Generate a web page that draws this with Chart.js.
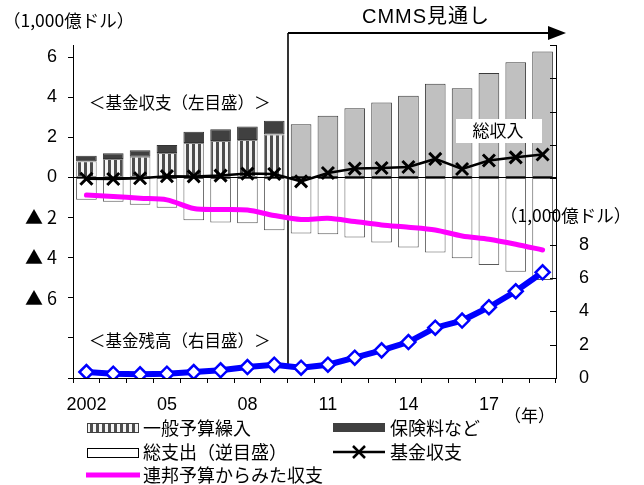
<!DOCTYPE html>
<html>
<head>
<meta charset="utf-8">
<script src="https://cdn.jsdelivr.net/npm/chart.js@4/dist/chart.umd.min.js"></script>
<style>
  html, body { margin: 0; padding: 0; background: #fff; }
  canvas { display: block; }
</style>
</head>
<body>
<canvas id="chart" width="644" height="485"></canvas>
<script>
// Medicare SMI trust fund: income, expenditure and reserves (1,000億ドル)
const years = [2002, 2003, 2004, 2005, 2006, 2007, 2008, 2009, 2010,
               2011, 2012, 2013, 2014, 2015, 2016, 2017, 2018, 2019];
const yearTickLabels = ['2002', '', '', '05', '', '', '08', '', '', '11', '', '', '14', '', '', '17', '', ''];
const projectionStartYear = 2010;

// actual income split (through 2009)
const generalRevenue = [0.80, 0.92, 1.035, 1.22, 1.72, 1.82, 1.87, 2.135,
                        null, null, null, null, null, null, null, null, null, null];
const premiums = [0.285, 0.28, 0.315, 0.40, 0.55, 0.58, 0.665, 0.685,
                  null, null, null, null, null, null, null, null, null, null];
// projected total income (from 2010)
const projectedIncome = [null, null, null, null, null, null, null, null,
                         2.65, 3.07, 3.45, 3.73, 4.07, 4.67, 4.45, 5.2, 5.735, 6.27];
// total expenditure, drawn downward
const totalExpenditure = [1.115, 1.215, 1.365, 1.515, 2.13, 2.25, 2.28, 2.63, 2.8,
                          2.83, 3.0, 3.25, 3.5, 3.75, 4.03, 4.37, 4.7, 5.12];
const fundBalance = [-0.07, -0.08, -0.04, 0.06, 0.05, 0.09, 0.19, 0.17, -0.2,
                     0.22, 0.44, 0.47, 0.52, 0.92, 0.42, 0.84, 1.0, 1.14];
const federalBudgetBalance = [-0.88, -0.95, -1.04, -1.12, -1.55, -1.6, -1.63, -1.9, -2.1,
                              -2.04, -2.2, -2.37, -2.48, -2.62, -2.92, -3.08, -3.33, -3.62];
const fundReserve = [0.36, 0.26, 0.22, 0.26, 0.36, 0.46, 0.66, 0.8, 0.62,
                     0.8, 1.22, 1.66, 2.16, 3.02, 3.45, 4.25, 5.21, 6.35];

const leftTicks = [-10, -8, -6, -4, -2, 0, 2, 4, 6];
const rightTicks = [0, 2, 4, 6, 8, 10, 12, 14, 16, 18, 20];
const rightTickLabelMax = 8;

const NUM_FONT = '"Liberation Sans", Arial, sans-serif';
const JP_FONT = '"Noto Sans CJK JP", sans-serif';

function makeStripes() {
  const c = document.createElement('canvas');
  c.width = 6; c.height = 6;
  const g = c.getContext('2d');
  g.fillStyle = '#f4f4f4';
  g.fillRect(0, 0, 6, 6);
  g.fillStyle = '#4d4d4d';
  g.fillRect(0, 0, 3, 6);
  return g.createPattern(c, 'repeat');
}
const stripes = makeStripes();

const COLORS = {
  premium: '#404040',
  income: '#c0c0c0',
  balance: '#000000',
  federal: '#ff00ff',
  reserve: '#0000ff'
};

const overlay = {
  id: 'overlay',
  afterDatasetDraw(chart, args) {
    // index 0 (general revenue) is the last bar dataset painted
    if (args.index !== 0) return;
    const { ctx, chartArea: a, scales: { x, y } } = chart;
    ctx.save();
    // zero line of the left scale
    const y0 = Math.round(y.getPixelForValue(0)) + 0.5;
    ctx.strokeStyle = '#000';
    ctx.lineWidth = 1;
    ctx.beginPath();
    ctx.moveTo(a.left, y0);
    ctx.lineTo(a.right, y0);
    ctx.stroke();

    // projection divider with arrow
    const i = years.indexOf(projectionStartYear);
    const vx = Math.round((x.getPixelForValue(i - 1) + x.getPixelForValue(i)) / 2);
    const arrowY = 33;
    ctx.lineWidth = 1.6;
    ctx.beginPath();
    ctx.moveTo(vx, arrowY);
    ctx.lineTo(vx, a.bottom - 11);
    ctx.stroke();
    ctx.lineWidth = 2;
    ctx.beginPath();
    ctx.moveTo(vx, arrowY);
    ctx.lineTo(a.right - 8, arrowY);
    ctx.stroke();
    ctx.fillStyle = '#000';
    ctx.beginPath();
    ctx.moveTo(a.right - 8, arrowY - 7);
    ctx.lineTo(a.right + 10, arrowY);
    ctx.lineTo(a.right - 8, arrowY + 7);
    ctx.closePath();
    ctx.fill();

    // total income callout
    ctx.fillStyle = '#fff';
    ctx.fillRect(456, 119, 86, 24);
    ctx.fillStyle = '#000';
    ctx.font = '17px ' + JP_FONT;
    ctx.textAlign = 'center';
    ctx.textBaseline = 'middle';
    ctx.fillText('総収入', 498, 131);
    ctx.restore();
  },
  afterDraw(chart) {
    const { ctx, chartArea: a, scales: { y2 } } = chart;
    ctx.save();
    // inward tick marks on the right scale
    ctx.strokeStyle = '#000';
    ctx.lineWidth = 1;
    rightTicks.forEach(v => {
      const py = Math.round(y2.getPixelForValue(v)) + 0.5;
      ctx.beginPath();
      ctx.moveTo(a.right - 6, py);
      ctx.lineTo(a.right, py);
      ctx.stroke();
    });

    ctx.fillStyle = '#000';
    ctx.textBaseline = 'middle';
    ctx.textAlign = 'left';
    ctx.font = '17.5px ' + JP_FONT;
    ctx.fillText('（1,000億ドル）', 3, 20);
    ctx.fillText('（1,000億ドル）', 500, 215);
    ctx.font = '20px "Liberation Sans", ' + JP_FONT;
    ctx.letterSpacing = '1px';
    ctx.fillText('CMMS見通し', 362, 17);
    ctx.letterSpacing = '0px';
    ctx.font = '16.5px ' + JP_FONT;
    ctx.fillText('＜基金収支（左目盛）＞', 89, 103);
    ctx.fillText('＜基金残高（右目盛）＞', 89, 341);
    ctx.font = '17px ' + JP_FONT;
    ctx.fillText('（年）', 504, 416);

    // legend
    const ds = chart.data.datasets;
    const col1 = 87, col2 = 333, boxW = 51;
    const r1 = 428, r2 = 452, r3 = 475;
    ctx.lineWidth = 1;
    // general revenue
    ctx.fillStyle = ds[0].backgroundColor;
    ctx.fillRect(col1, r1 - 5, boxW, 9);
    ctx.strokeStyle = '#404040';
    ctx.strokeRect(col1 + 0.5, r1 - 4.5, boxW, 9);
    // premiums
    ctx.fillStyle = ds[1].backgroundColor;
    ctx.fillRect(col2, r1 - 5, boxW + 1, 9);
    // expenditure
    ctx.fillStyle = '#fff';
    ctx.fillRect(col1, r2 - 4, boxW, 9);
    ctx.strokeStyle = '#000';
    ctx.strokeRect(col1 + 0.5, r2 - 3.5, boxW, 9);
    // fund balance line with cross
    ctx.strokeStyle = ds[4].borderColor;
    ctx.lineWidth = 2.5;
    ctx.beginPath();
    ctx.moveTo(col2, r2);
    ctx.lineTo(col2 + boxW + 1, r2);
    ctx.stroke();
    const cx = col2 + 26, d = 6;
    ctx.beginPath();
    ctx.moveTo(cx - d, r2 - d); ctx.lineTo(cx + d, r2 + d);
    ctx.moveTo(cx + d, r2 - d); ctx.lineTo(cx - d, r2 + d);
    ctx.stroke();
    // federal budget view
    ctx.strokeStyle = ds[5].borderColor;
    ctx.lineWidth = 5;
    ctx.beginPath();
    ctx.moveTo(col1 - 1, r3);
    ctx.lineTo(col1 + boxW + 2, r3);
    ctx.stroke();

    ctx.fillStyle = '#000';
    ctx.font = '18px ' + JP_FONT;
    ctx.fillText('一般予算繰入', 143, r1);
    ctx.fillText('保険料など', 390, r1);
    ctx.fillText('総支出（逆目盛）', 143, r2);
    ctx.fillText('基金収支', 390, r2);
    ctx.fillText('連邦予算からみた収支', 143, r3);
    ctx.restore();
  }
};

const barCommon = {
  type: 'bar',
  stack: 'fund',
  yAxisID: 'y',
  borderWidth: 1,
  borderSkipped: false,
  barPercentage: 0.77,
  categoryPercentage: 1.0
};

new Chart(document.getElementById('chart'), {
  data: {
    labels: years.map(String),
    datasets: [
      Object.assign({}, barCommon, { label: '一般予算繰入', data: generalRevenue,
        backgroundColor: stripes, borderColor: '#8a8a8a', order: 10 }),
      Object.assign({}, barCommon, { label: '保険料など', data: premiums,
        backgroundColor: COLORS.premium, borderColor: '#333', order: 11 }),
      Object.assign({}, barCommon, { label: '総収入', data: projectedIncome,
        backgroundColor: COLORS.income, borderColor: '#3a3a3a', order: 12 }),
      Object.assign({}, barCommon, { label: '総支出（逆目盛）', data: totalExpenditure.map(v => -v),
        backgroundColor: '#ffffff', borderColor: '#5a5a5a', order: 13 }),
      { type: 'line', label: '基金収支', data: fundBalance, yAxisID: 'y', stack: 'balance',
        borderColor: COLORS.balance, borderWidth: 2.5, tension: 0,
        pointStyle: 'crossRot', pointRadius: 8.5, pointBorderWidth: 3,
        pointBorderColor: COLORS.balance, order: 1 },
      { type: 'line', label: '連邦予算からみた収支', data: federalBudgetBalance, yAxisID: 'y', stack: 'federal',
        borderColor: COLORS.federal, borderWidth: 5, tension: 0.3, pointRadius: 0,
        borderCapStyle: 'round', order: 2 },
      { type: 'line', label: '基金残高', data: fundReserve, yAxisID: 'y2', stack: 'reserve',
        borderColor: COLORS.reserve, borderWidth: 6, tension: 0,
        pointStyle: 'rectRot', pointRadius: 7, pointBorderWidth: 2.5,
        pointBackgroundColor: '#ffffff', pointBorderColor: COLORS.reserve, order: 0 }
    ]
  },
  options: {
    responsive: false,
    animation: false,
    devicePixelRatio: 1,
    layout: { padding: { top: 45, left: 0, right: 0, bottom: 0 } },
    plugins: { legend: { display: false }, tooltip: { enabled: false } },
    scales: {
      x: {
        stacked: true,
        offset: true,
        grid: { display: true, drawOnChartArea: false, drawTicks: true, tickLength: 5,
                color: '#000', tickColor: '#000', offset: true },
        border: { display: true, color: '#000', width: 1 },
        ticks: { autoSkip: false, maxRotation: 0, minRotation: 0, padding: 11, color: '#000',
                 font: { family: NUM_FONT, size: 18 },
                 callback: (v, i) => yearTickLabels[i] },
        afterFit: s => { s.height = 107; }
      },
      y: {
        position: 'left',
        stacked: true,
        min: -10, max: 6.6,
        afterBuildTicks: s => { s.ticks = leftTicks.map(v => ({ value: v })); },
        grid: { display: true, drawOnChartArea: false, drawTicks: true, tickLength: 5,
                color: '#000', tickColor: '#000' },
        border: { display: true, color: '#000', width: 1 },
        ticks: { padding: 11, color: '#000',
                 font: c => ({ family: (c.tick && c.tick.value < 0) ? JP_FONT : NUM_FONT, size: 18 }),
                 callback: v => v >= 0 ? String(v) : (v >= -6 ? '▲ ' + (-v) : '') },
        afterFit: s => { s.width = 73; }
      },
      y2: {
        position: 'right',
        min: 0, max: 20,
        afterBuildTicks: s => { s.ticks = rightTicks.map(v => ({ value: v })); },
        grid: { display: false },
        border: { display: true, color: '#000', width: 1 },
        ticks: { padding: 15, color: '#000', font: { family: NUM_FONT, size: 18 },
                 callback: v => v <= rightTickLabelMax ? String(v) : '' },
        afterFit: s => { s.width = 88; }
      }
    }
  },
  plugins: [overlay]
});
</script>
</body>
</html>
